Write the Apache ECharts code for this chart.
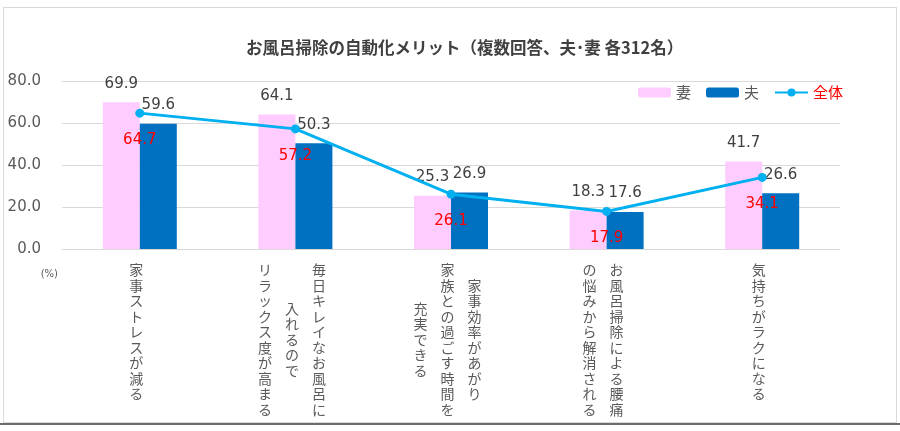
<!DOCTYPE html>
<html><head><meta charset="utf-8">
<script src="https://cdn.jsdelivr.net/npm/echarts@6/dist/echarts.min.js"></script>
<style>
html,body{margin:0;padding:0;background:#fff;}
#c{width:900px;height:431px;}
#frame{position:absolute;left:3px;top:7px;width:892px;height:414px;border:1px solid #d9d9d9;pointer-events:none;}
#bline{position:absolute;left:0;top:423px;width:900px;height:2px;background:#6b6b6b;}
</style></head><body>
<div id="c"></div><div id="frame"></div><div id="bline"></div>
<script>
// Category labels: each entry lists its vertical columns, right-to-left
const categoryColumns = [
  ['家事ストレスが減る'],
  ['毎日キレイなお風呂に', '入れるので', 'リラックス度が高まる'],
  ['家事効率があがり', '家族との過ごす時間を', '充実できる'],
  ['お風呂掃除による腰痛', 'の悩みから解消される'],
  ['気持ちがラクになる']
];
const categories = categoryColumns.map(c => c.join(''));
const wifeValues = [69.9, 64.1, 25.3, 18.3, 41.7];
const husbandValues = [59.6, 50.3, 26.9, 17.6, 26.6];
const totalValues = [64.7, 57.2, 26.1, 17.9, 34.1];
const seriesNames = ['妻', '夫', '全体'];
const titleText = 'お風呂掃除の自動化メリット（複数回答、夫･妻 各312名）';
const yMin = 0, yMax = 80, yInterval = 20;
const unitLabel = '(%)';

const jp = '"Noto Sans CJK JP", "Noto Sans", sans-serif';
const num = '"DejaVu Sans", Verdana, sans-serif';

function buildLabel(idx) {
  const cols = categoryColumns[idx];
  const n = cols.length;
  const lens = cols.map(c => [...c].length);
  const maxLen = Math.max(...lens);
  const rows = 2 * maxLen;
  const lines = [];
  for (let r = 0; r < rows; r++) {
    let line = '';
    for (let k = n - 1; k >= 0; k--) {
      const chars = [...cols[k]];
      const off = maxLen - chars.length;
      const rel = r - off;
      let ch = '　';
      if (rel >= 0 && rel % 2 === 0 && rel / 2 < chars.length) ch = chars[rel / 2];
      line += '{c|' + ch + '}';
    }
    lines.push(line);
  }
  return lines.join('\n');
}

const chart = echarts.init(document.getElementById('c'), null, {renderer: 'canvas'});
chart.setOption({
  animation: false,
  backgroundColor: 'transparent',
  title: {
    text: titleText,
    left: 246, top: 39, padding: 0,
    textStyle: {fontFamily: jp, fontSize: 16.5, fontWeight: 'bold', color: '#404040'}
  },
  legend: {
    left: 638, top: 85, padding: 0, itemGap: 15,
    itemWidth: 33, itemHeight: 10,
    textStyle: {fontFamily: jp, fontSize: 15, color: '#595959'},
    data: [
      {name: seriesNames[0]},
      {name: seriesNames[1]},
      {name: seriesNames[2], textStyle: {color: '#FF0000'}}
    ]
  },
  grid: {left: 62, right: 60, top: 81, bottom: 182, containLabel: false},
  xAxis: {
    type: 'category',
    data: categories,
    axisLine: {show: true, lineStyle: {color: '#d9d9d9', width: 1}},
    axisTick: {show: false},
    axisLabel: {
      interval: 0,
      margin: 17,
      padding: [0, 7, 0, 0],
      formatter: (v, i) => buildLabel(i),
      rich: {
        c: {width: 27, align: 'center', lineHeight: 7.75, fontSize: 14, fontFamily: jp, color: '#595959'}
      }
    }
  },
  yAxis: {
    type: 'value',
    min: yMin, max: yMax, interval: yInterval,
    name: unitLabel,
    nameLocation: 'start',
    nameGap: 20,
    nameTextStyle: {fontFamily: num, fontSize: 10, color: '#595959', align: 'right', padding: [0, 4, 0, 0]},
    axisLine: {show: false},
    axisTick: {show: false},
    splitLine: {lineStyle: {color: '#d9d9d9', width: 1}},
    axisLabel: {
      margin: 21,
      fontFamily: num, fontSize: 15, color: '#595959',
      formatter: v => v.toFixed(1)
    }
  },
  series: [
    {
      name: seriesNames[0], type: 'bar', data: wifeValues,
      barWidth: 37, barGap: '0%',
      itemStyle: {color: '#FFCCFF'},
      label: {show: true, position: 'top', distance: 11, fontFamily: num, fontSize: 15, color: '#404040',
        formatter: p => p.value.toFixed(1)}
    },
    {
      name: seriesNames[1], type: 'bar', data: husbandValues,
      barWidth: 37, barGap: '0%',
      itemStyle: {color: '#0070C0'},
      label: {show: true, position: 'top', distance: 11, fontFamily: num, fontSize: 15, color: '#404040',
        formatter: p => p.value.toFixed(1)}
    },
    {
      name: seriesNames[2], type: 'line', data: totalValues, z: 5,
      symbol: 'circle', symbolSize: 9,
      itemStyle: {color: '#00B0F0'},
      lineStyle: {color: '#00B0F0', width: 3},
      label: {show: true, position: 'bottom', distance: 15, fontFamily: num, fontSize: 15, color: '#FF0000',
        formatter: p => p.value.toFixed(1)}
    }
  ]
});
</script>
</body></html>
